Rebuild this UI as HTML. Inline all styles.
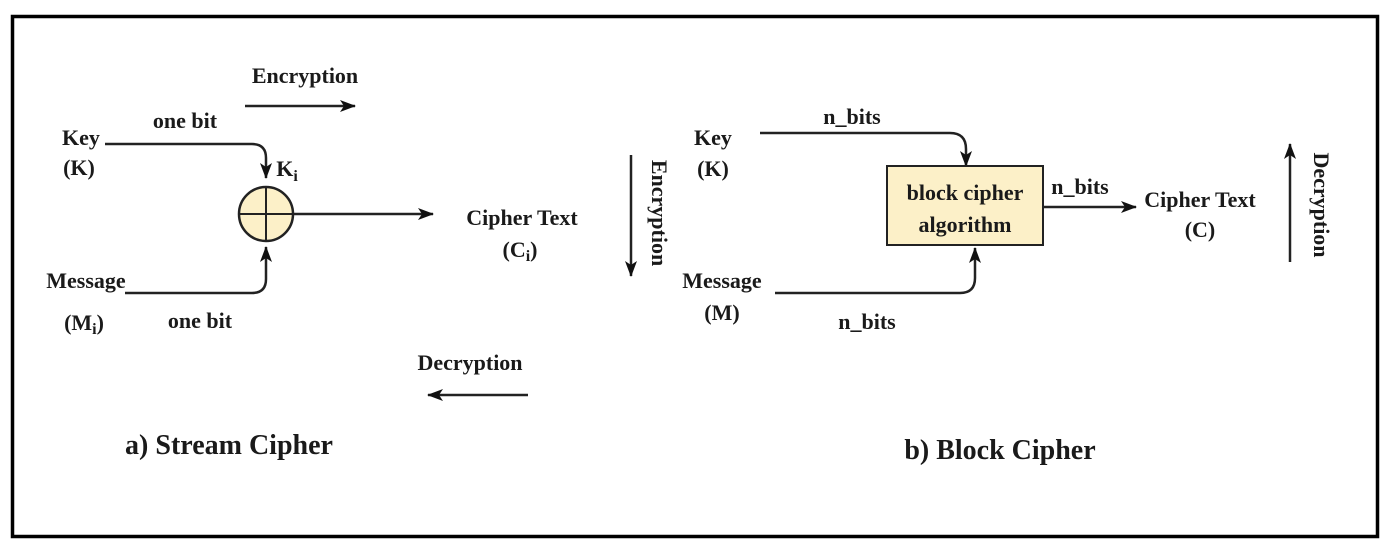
<!DOCTYPE html>
<html><head><meta charset="utf-8"><style>
html,body{margin:0;padding:0;background:#fff;}
svg{display:block}
text{font-family:"Liberation Serif",serif;font-weight:bold;fill:#1a1a1a;}
</style></head><body>
<svg width="1396" height="550" viewBox="0 0 1396 550" xmlns="http://www.w3.org/2000/svg">
<defs>
<marker id="a" viewBox="0 0 16 12" refX="15" refY="6" markerWidth="16" markerHeight="12" markerUnits="userSpaceOnUse" orient="auto">
<path d="M0,0 L16,6 L0,12 L4,6 Z" fill="#111"/>
</marker>
</defs>
<rect x="12.5" y="16.5" width="1365" height="520" fill="none" stroke="#000" stroke-width="3.5"/>
<g stroke="#222" stroke-width="2.5" fill="none">
<line x1="245" y1="106" x2="355" y2="106" marker-end="url(#a)"/>
<path d="M105,144 H252 Q266,144 266,158 V178" marker-end="url(#a)"/>
<path d="M125,293 H252 Q266,293 266,279 V247" marker-end="url(#a)"/>
<line x1="293" y1="214" x2="433" y2="214" marker-end="url(#a)"/>
<line x1="528" y1="395" x2="428" y2="395" marker-end="url(#a)"/>
<line x1="631" y1="155" x2="631" y2="276" marker-end="url(#a)"/>
<path d="M760,133 H950 Q966,133 966,149 V166" marker-end="url(#a)"/>
<path d="M775,293 H960 Q975,293 975,278 V248" marker-end="url(#a)"/>
<line x1="1043" y1="207" x2="1136" y2="207" marker-end="url(#a)"/>
<line x1="1290" y1="262" x2="1290" y2="144" marker-end="url(#a)"/>
</g>
<circle cx="266" cy="214" r="27" fill="#fcf0c8" stroke="#222" stroke-width="2.5"/>
<line x1="239" y1="214" x2="293" y2="214" stroke="#222" stroke-width="2"/>
<line x1="266" y1="187" x2="266" y2="241" stroke="#222" stroke-width="2"/>
<rect x="887" y="166" width="156" height="79" fill="#fcf0c8" stroke="#222" stroke-width="2"/>
<g font-size="22" text-anchor="middle">
<text x="305" y="83">Encryption</text>
<text x="185" y="128">one bit</text>
<text x="81" y="145">Key</text>
<text x="79" y="175">(K)</text>
<text x="287" y="176">K<tspan font-size="16" dy="5">i</tspan></text>
<text x="522" y="225">Cipher Text</text>
<text x="520" y="257">(C<tspan font-size="16" dy="4">i</tspan><tspan dy="-4">)</tspan></text>
<text x="86" y="288">Message</text>
<text x="84" y="330">(M<tspan font-size="16" dy="4">i</tspan><tspan dy="-4">)</tspan></text>
<text x="200" y="328">one bit</text>
<text x="470" y="370">Decryption</text>
<text x="713" y="145">Key</text>
<text x="713" y="176">(K)</text>
<text x="852" y="124">n_bits</text>
<text x="965" y="200">block cipher</text>
<text x="965" y="232">algorithm</text>
<text x="1080" y="194">n_bits</text>
<text x="1200" y="207">Cipher Text</text>
<text x="1200" y="237">(C)</text>
<text x="722" y="288">Message</text>
<text x="722" y="320">(M)</text>
<text x="867" y="329">n_bits</text>
<text transform="translate(652,213) rotate(90)">Encryption</text>
<text transform="translate(1314,205) rotate(90)">Decryption</text>
</g>
<g font-size="28" text-anchor="middle">
<text x="229" y="454">a) Stream Cipher</text>
<text x="1000" y="459">b) Block Cipher</text>
</g>
</svg>
</body></html>
